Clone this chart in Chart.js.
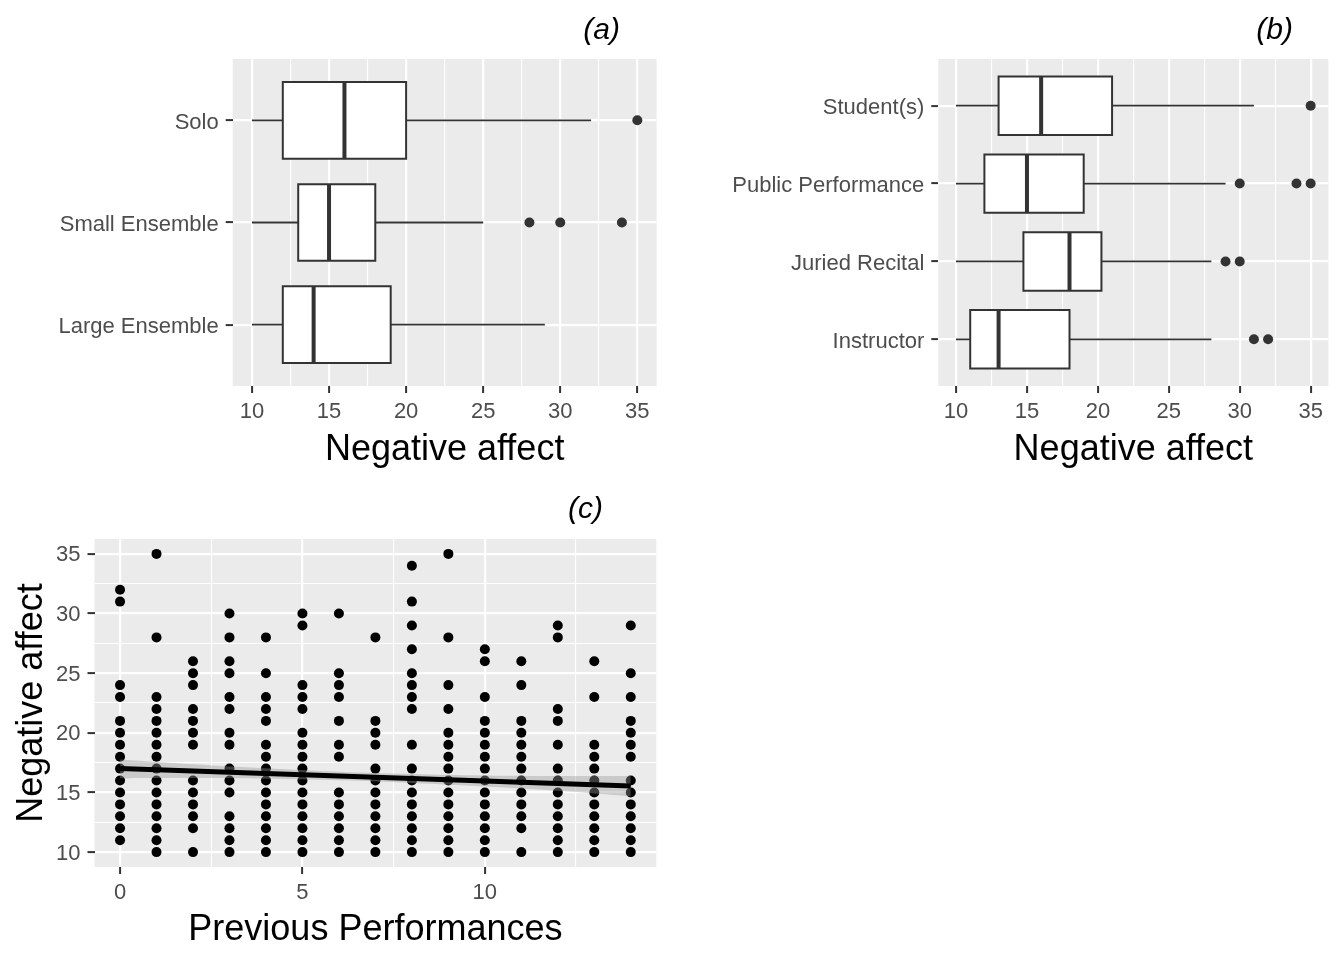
<!DOCTYPE html>
<html>
<head>
<meta charset="utf-8">
<title>Negative affect</title>
<script src="https://cdn.jsdelivr.net/npm/chart.js@4.4.0/dist/chart.umd.min.js"></script>
<style>
  body { margin: 0; background: #fff; }
  #wrap { position: relative; width: 1344px; height: 960px; }
  canvas { position: absolute; }
</style>
</head>
<body>
<div id="wrap">
  <canvas id="chartA" width="672" height="480" style="left:0;top:0"></canvas>
  <canvas id="chartB" width="672" height="480" style="left:672px;top:0"></canvas>
  <canvas id="chartC" width="672" height="480" style="left:0;top:480px"></canvas>
</div>
<script>
// (a) negative affect by ensemble type
var ensembleCats = ["Solo", "Small Ensemble", "Large Ensemble"];
var ensembleLow  = [10, 10, 10];
var ensembleQ1   = [12, 13, 12];
var ensembleMed  = [16, 15, 14];
var ensembleQ3   = [20, 18, 19];
var ensembleHigh = [32, 25, 29];
var ensembleOut  = [[35], [28, 30, 34], []];

// (b) negative affect by audience
var audienceCats = ["Student(s)", "Public Performance", "Juried Recital", "Instructor"];
var audienceLow  = [10, 10, 10, 10];
var audienceQ1   = [13, 12, 14.75, 11];
var audienceMed  = [16, 15, 18, 13];
var audienceQ3   = [21, 19, 20.25, 18];
var audienceHigh = [31, 29, 28, 28];
var audienceOut  = [[35], [30, 34, 35], [29, 30], [31, 32]];

// (c) negative affect vs number of previous performances
var perfCounts = [0, 1, 2, 3, 4, 5, 6, 7, 8, 9, 10, 11, 12, 13, 14];
var affectAtPerf = [
  [32, 31, 24, 23, 21, 20, 19, 18, 17, 16, 15, 14, 13, 12, 11],
  [35, 28, 23, 22, 21, 20, 19, 18, 17, 16, 15, 14, 13, 12, 11, 10],
  [26, 25, 24, 22, 21, 20, 19, 16, 15, 14, 13, 12, 10],
  [30, 28, 26, 25, 23, 22, 20, 19, 17, 16, 15, 13, 12, 11, 10],
  [28, 25, 23, 22, 21, 19, 18, 17, 16, 15, 14, 13, 12, 11, 10],
  [30, 29, 24, 23, 22, 20, 19, 18, 17, 16, 15, 14, 13, 12, 11, 10],
  [30, 25, 24, 23, 21, 19, 18, 15, 14, 13, 12, 11, 10],
  [28, 21, 20, 19, 17, 16, 15, 14, 13, 12, 11, 10],
  [34, 31, 29, 27, 25, 24, 23, 22, 19, 17, 16, 15, 14, 13, 12, 11, 10],
  [35, 28, 24, 22, 20, 19, 18, 17, 16, 15, 14, 13, 12, 11, 10],
  [27, 26, 23, 21, 20, 19, 18, 17, 16, 15, 14, 13, 12, 11, 10],
  [26, 24, 21, 20, 19, 18, 17, 16, 15, 14, 13, 12, 10],
  [29, 28, 22, 21, 19, 17, 16, 15, 14, 13, 12, 11, 10],
  [26, 23, 19, 18, 17, 16, 15, 14, 13, 12, 11, 10],
  [29, 25, 23, 21, 20, 19, 18, 16, 15, 14, 13, 12, 11, 10]
];
// linear fit and its confidence band
var fitX      = [0, 2, 4, 6, 8, 10, 12, 14];
var fitY      = [17.0, 16.79, 16.59, 16.38, 16.17, 15.96, 15.76, 15.55];
var bandUpper = [17.77, 17.37, 17.03, 16.74, 16.54, 16.42, 16.38, 16.38];
var bandLower = [16.2, 16.21, 16.15, 16.02, 15.8, 15.5, 15.14, 14.68];

// tick labels
var affectMajor = [10, 15, 20, 25, 30, 35];
var affectMinor = [12.5, 17.5, 22.5, 27.5, 32.5];
var perfMajor = [0, 5, 10];
var perfMinor = [2.5, 7.5, 12.5];

var INK = "#333333";
var TICK_TXT = "#4D4D4D";
Chart.defaults.font.family = '"Liberation Sans", Arial, sans-serif';

// grey panel + italic panel letter
var panelDeco = {
  id: "panelDeco",
  beforeDraw: function(chart) {
    var a = chart.chartArea, ctx = chart.ctx;
    ctx.save();
    ctx.fillStyle = "#EBEBEB";
    ctx.fillRect(a.left, a.top, a.right - a.left, a.bottom - a.top);
    ctx.restore();
  },
  afterDraw: function(chart, args, opts) {
    var ctx = chart.ctx;
    ctx.save();
    ctx.font = 'italic 30px "Liberation Sans", Arial, sans-serif';
    ctx.fillStyle = "#000";
    ctx.textAlign = "right";
    ctx.textBaseline = "middle";
    ctx.fillText(opts.label, opts.x, opts.y);
    ctx.restore();
  }
};

function gridFor(major) {
  function isMajor(c) { return c.tick && major.indexOf(c.tick.value) >= 0; }
  return {
    color: "#FFFFFF",
    lineWidth: function(c) { return isMajor(c) ? 2.2 : 1.1; },
    tickColor: function(c) { return isMajor(c) ? INK : "rgba(0,0,0,0)"; },
    tickWidth: 2,
    tickLength: 7
  };
}

function valueAxis(min, max, major, minor, title, vertical, size) {
  var all = major.concat(minor).sort(function(a, b) { return a - b; });
  return {
    type: "linear", min: min, max: max,
    afterBuildTicks: function(s) { s.ticks = all.map(function(v) { return { value: v }; }); },
    afterFit: function(s) { if (vertical) s.width = size; else s.height = size; },
    ticks: {
      autoSkip: false, maxRotation: 0, color: TICK_TXT, font: { size: 22 },
      padding: vertical ? 7 : 6, labelOffset: vertical ? 1.5 : 0,
      callback: function(v) { return major.indexOf(v) >= 0 ? String(v) : ""; }
    },
    grid: gridFor(major),
    border: { display: false },
    title: { display: true, text: title, color: "#000", font: { size: 36 },
             padding: { top: 10, bottom: 8.5 } }
  };
}

function categoryAxis(cats, width) {
  var pos = cats.map(function(c, i) { return i + 1; });
  return {
    type: "linear", min: 0.4, max: cats.length + 0.6, reverse: true,
    afterBuildTicks: function(s) { s.ticks = pos.map(function(v) { return { value: v }; }); },
    afterFit: function(s) { s.width = width; },
    ticks: {
      autoSkip: false, color: TICK_TXT, font: { size: 22 }, padding: 7, labelOffset: 2.5,
      callback: function(v) { return cats[v - 1]; }
    },
    grid: gridFor(pos),
    border: { display: false }
  };
}

function boxDatasets(low, q1, med, q3, high, outliers) {
  var h = 0.375, sets = [];
  var line = { type: "line", borderColor: INK, pointRadius: 0, tension: 0, fill: false };
  for (var i = 0; i < q1.length; i++) {
    var y = i + 1;
    sets.push(Object.assign({}, line, {
      order: 3, borderWidth: 2, fill: "shape", backgroundColor: "#FFFFFF",
      borderJoinStyle: "miter", borderCapStyle: "square",
      data: [{ x: q1[i], y: y - h }, { x: q3[i], y: y - h }, { x: q3[i], y: y + h },
             { x: q1[i], y: y + h }, { x: q1[i], y: y - h }]
    }));
    sets.push(Object.assign({}, line, { order: 2, borderWidth: 1.8,
      data: [{ x: low[i], y: y }, { x: q1[i], y: y }] }));
    sets.push(Object.assign({}, line, { order: 2, borderWidth: 1.8,
      data: [{ x: q3[i], y: y }, { x: high[i], y: y }] }));
    sets.push(Object.assign({}, line, { order: 1, borderWidth: 4, borderCapStyle: "butt",
      data: [{ x: med[i], y: y - h }, { x: med[i], y: y + h }] }));
  }
  var pts = [];
  outliers.forEach(function(list, i) {
    list.forEach(function(v) { pts.push({ x: v, y: i + 1 }); });
  });
  sets.push({ type: "scatter", order: 0, data: pts, pointRadius: 5, borderWidth: 0,
              backgroundColor: INK });
  return sets;
}

function baseOptions(label, lx, ly, padRight, xAxis, yAxis) {
  return {
    responsive: false, animation: false, events: [],
    layout: { padding: { top: 59, right: padRight, bottom: 0, left: 0 } },
    plugins: { legend: { display: false }, tooltip: { enabled: false },
               panelDeco: { label: label, x: lx, y: ly } },
    scales: { x: xAxis, y: yAxis }
  };
}

new Chart("chartA", {
  type: "scatter",
  data: { datasets: boxDatasets(ensembleLow, ensembleQ1, ensembleMed, ensembleQ3, ensembleHigh, ensembleOut) },
  options: baseOptions("(a)", 620, 31, 15.4,
    valueAxis(8.75, 36.25, affectMajor, affectMinor, "Negative affect", false, 94),
    categoryAxis(ensembleCats, 232.7)),
  plugins: [panelDeco]
});

new Chart("chartB", {
  type: "scatter",
  data: { datasets: boxDatasets(audienceLow, audienceQ1, audienceMed, audienceQ3, audienceHigh, audienceOut) },
  options: baseOptions("(b)", 621, 31, 15.6,
    valueAxis(8.75, 36.25, affectMajor, affectMinor, "Negative affect", false, 94),
    categoryAxis(audienceCats, 266.3)),
  plugins: [panelDeco]
});

var scatterPts = [];
perfCounts.forEach(function(p, i) {
  affectAtPerf[i].forEach(function(v) { scatterPts.push({ x: p, y: v }); });
});
function xy(xs, ys) { return xs.map(function(x, i) { return { x: x, y: ys[i] }; }); }

new Chart("chartC", {
  type: "scatter",
  data: {
    datasets: [
      { type: "line", order: 0, data: xy(fitX, fitY), borderColor: "#000", borderWidth: 5,
        pointRadius: 0, tension: 0, fill: false },
      { type: "line", order: 1, data: xy(fitX, bandUpper), borderWidth: 0, pointRadius: 0,
        tension: 0.4, fill: "+1", backgroundColor: "rgba(153,153,153,0.4)" },
      { type: "line", order: 1, data: xy(fitX, bandLower), borderWidth: 0, pointRadius: 0,
        tension: 0.4, fill: false },
      { type: "scatter", order: 2, data: scatterPts, pointRadius: 5, borderWidth: 0,
        backgroundColor: "#000" }
    ]
  },
  options: baseOptions("(c)", 603, 30, 15.7,
    valueAxis(-0.7, 14.7, perfMajor, perfMinor, "Previous Performances", false, 93),
    valueAxis(8.75, 36.25, affectMajor, affectMinor, "Negative affect", true, 94.5)),
  plugins: [panelDeco]
});
</script>
</body>
</html>
